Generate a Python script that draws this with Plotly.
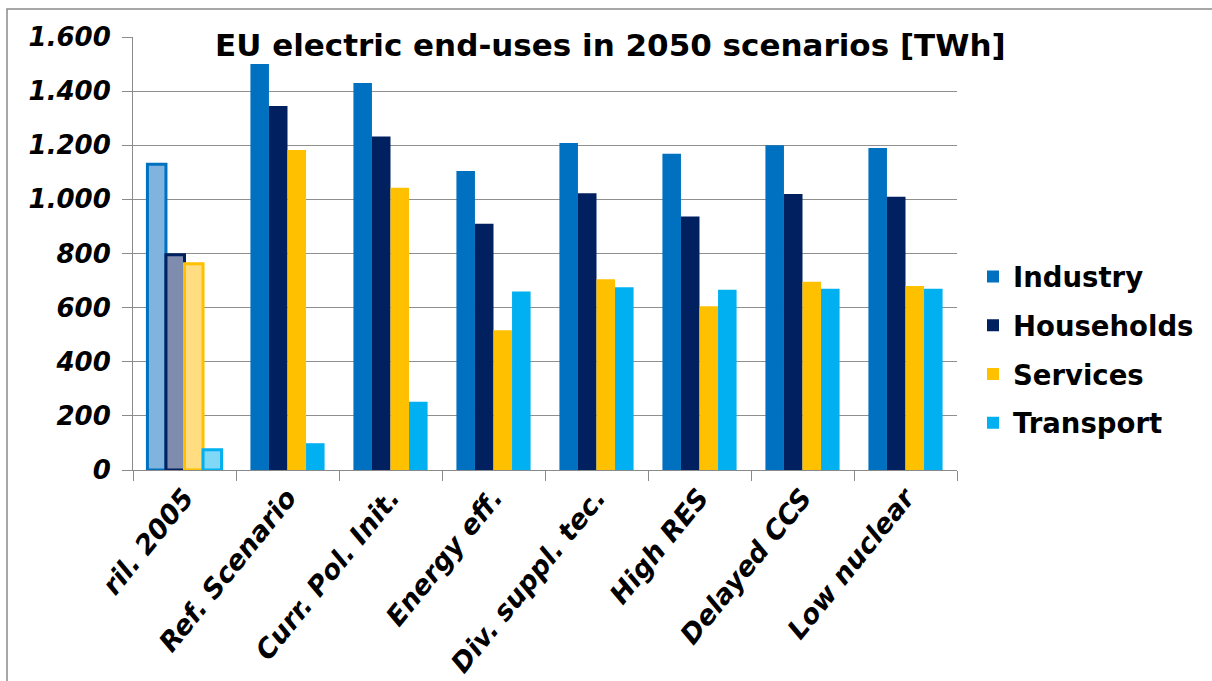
import plotly.graph_objects as go

# Scenario categories (first one is the 2005 reference year)
categories = ["ril. 2005", "Ref. Scenario", "Curr. Pol. Init.", "Energy eff.",
              "Div. suppl. tec.", "High RES", "Delayed CCS", "Low nuclear"]

# Electric end-uses by sector [TWh]
industry = [1130, 1500, 1430, 1105, 1208, 1169, 1200, 1190]
households = [795, 1345, 1232, 910, 1023, 937, 1020, 1010]
services = [762, 1182, 1043, 516, 705, 605, 696, 680]
transport = [75, 99, 252, 660, 675, 666, 670, 670]

y_ticks = [0, 200, 400, 600, 800, 1000, 1200, 1400, 1600]

series = [
    # name, values, colour, lighter fill used for the 2005 bars
    ("Industry", industry, "#0070C0", "#80B4DE"),
    ("Households", households, "#002060", "#7F8CAD"),
    ("Services", services, "#FFC000", "#FFDD80"),
    ("Transport", transport, "#00B0F0", "#80D8F6"),
]

FONT = "DejaVu Sans"
PLOT_W, PLOT_H = 824, 433.5

fig = go.Figure()
for name, vals, col, light in series:
    # 2005 bar: lighter fill with a coloured outline
    fig.add_trace(go.Bar(
        x=categories[:1], y=vals[:1], name=name, offsetgroup=name,
        legendgroup=name, showlegend=False,
        marker=dict(color=light, line=dict(color=col, width=3)),
    ))
    # 2050 scenario bars
    fig.add_trace(go.Bar(
        x=categories[1:], y=vals[1:], name=name, offsetgroup=name,
        legendgroup=name, showlegend=True,
        marker=dict(color=col, line=dict(width=0)),
    ))

fig.update_layout(
    width=1212, height=681,
    margin=dict(l=133, r=255, t=37, b=210.5, autoexpand=False),
    paper_bgcolor="white", plot_bgcolor="white",
    barmode="group", bargap=0.28, bargroupgap=0,
    separators=",.",
    font=dict(family=FONT, color="black"),
    showlegend=True,
    legend=dict(
        x=1.0 + 16 / PLOT_W, xanchor="left", xref="paper",
        y=(470.5 - 350) / PLOT_H, yanchor="middle",
        font=dict(family=FONT, size=27.5, color="black", weight="bold"),
        tracegroupgap=10, itemwidth=30, bgcolor="rgba(0,0,0,0)",
    ),
    shapes=[dict(
        type="rect", xref="paper", yref="paper",
        x0=-126 / PLOT_W, x1=1300 / PLOT_W, y0=-300 / PLOT_H, y1=461.5 / PLOT_H,
        line=dict(color="#8a8a8a", width=1.5), fillcolor="rgba(0,0,0,0)",
        layer="below",
    )],
    annotations=[dict(
        text="<b>EU electric end-uses in 2050 scenarios [TWh]</b>",
        xref="paper", yref="paper", x=(610 - 133) / PLOT_W, y=(470.5 - 45) / PLOT_H,
        xanchor="center", yanchor="middle", showarrow=False,
        font=dict(family=FONT, size=31, color="black"),
    )],
)

fig.update_xaxes(
    type="category", categoryorder="array", categoryarray=categories,
    tickson="boundaries", ticks="outside", ticklen=10, tickcolor="#8a8a8a",
    showline=True, linecolor="#8a8a8a", linewidth=1,
    tickangle=-51, automargin=False,
    tickfont=dict(family=FONT, size=27, color="black", weight="bold", style="italic"),
    showgrid=False,
)

fig.update_yaxes(
    range=[0, 1600], tickvals=y_ticks, tickformat=",d",
    ticks="outside", ticklen=10, tickcolor="#8a8a8a",
    showline=True, linecolor="#8a8a8a", linewidth=1,
    showgrid=True, gridcolor="#8f8f8f", gridwidth=1,
    zeroline=False, ticklabelstandoff=6, automargin=False,
    tickfont=dict(family=FONT, size=26, color="black", weight="bold", style="italic"),
)

fig.write_html("out.html")
